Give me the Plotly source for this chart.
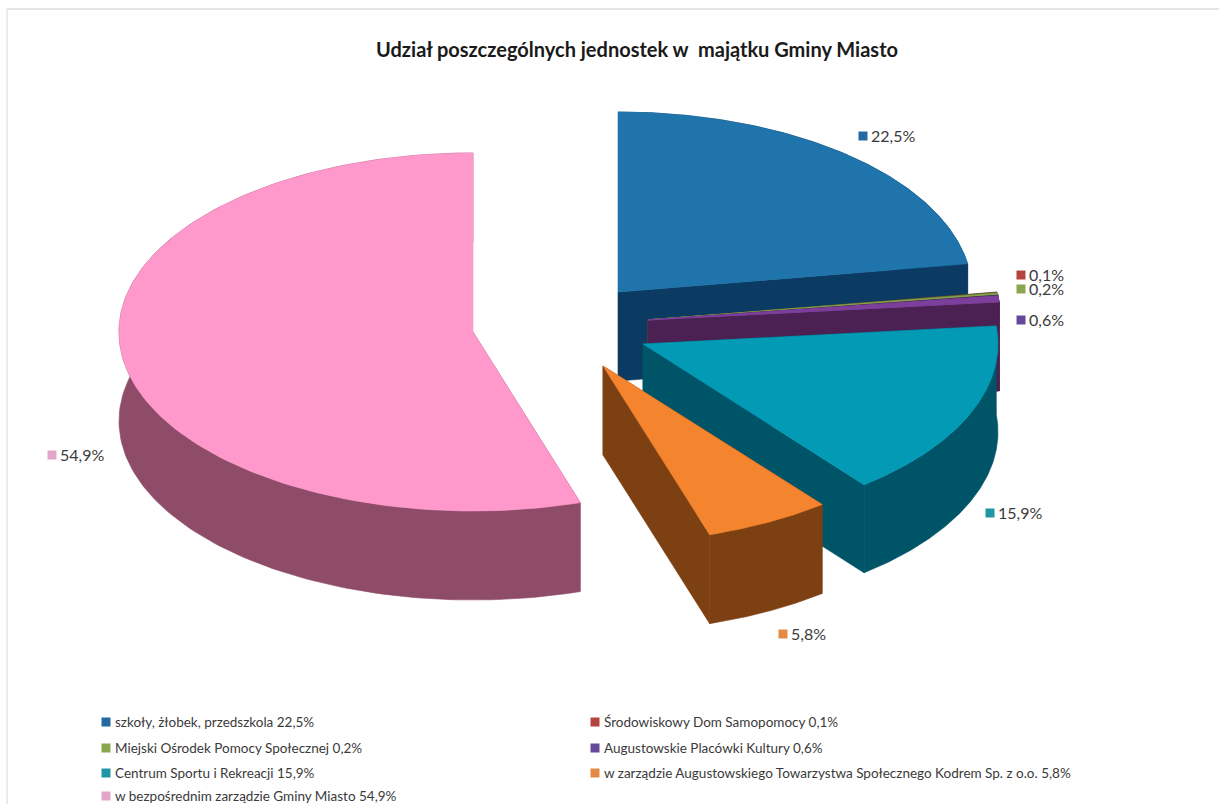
import numpy as np
import plotly.graph_objects as go

# ---- data ----
categories = ["szkoły, żłobek, przedszkola", "Środowiskowy Dom Samopomocy",
              "Miejski Ośrodek Pomocy Społecznej", "Augustowskie Placówki Kultury",
              "Centrum Sportu i Rekreacji",
              "w zarządzie Augustowskiego Towarzystwa Społecznego Kodrem Sp. z o.o.",
              "w bezpośrednim zarządzie Gminy Miasto"]
shares = [22.5, 0.1, 0.2, 0.6, 15.9, 5.8, 54.9]
title = "Udział poszczególnych jednostek w  majątku Gminy Miasto"

# ---- styles / layout ----
top_colors = ["#1f74ab", "#b5453f", "#80a04c", "#7c3f9c", "#039ab6", "#f4842e", "#ff99cc"]
side_colors = ["#0b3a62", "#6e2a28", "#55702f", "#4a2152", "#005468", "#7d4012", "#8e4c69"]
key_colors = ["#2469a3", "#b7433f", "#8aa64e", "#65489a", "#1e96a6", "#e58a45", "#e3a6c9"]
edge_widths = [0.6, 0.3, 1.6, 1.0, 0.6, 0.6, 0.6]
apex_x = [618, 648, 648, 648, 643, 603, 473]
apex_y = [292, 320, 320, 320, 344, 366, 332]
radius_x = [354, 353, 353, 353, 355, 352, 354]
radius_y = [180, 180, 180, 180, 180, 177, 179]
depth = [89, 89, 89, 89, 88, 89, 89]
label_x = [863, 1021, 1021, 1021, 990, 783, 52]
label_y = [136, 275, 289, 320, 513, 634, 455]
key_x = [106, 595, 106, 595, 106, 595, 106]
key_y = [722, 722, 748, 748, 773, 773, 796]
label_gap = 8
key_gap = 9
FONT = "Lato, Carlito, Calibri, sans-serif"
TEXT = "#3a3a3a"

edges = np.concatenate([[0], np.cumsum(shares)]) / sum(shares) * 2 * np.pi

fig = go.Figure()


def poly(xs, ys, color, width):
    fig.add_trace(go.Scatter(x=xs, y=ys, mode="lines", fill="toself", fillcolor=color,
                             line=dict(color=color, width=width), hoverinfo="skip",
                             showlegend=False))


def draw_slice(i):
    ax, ay, d = apex_x[i], apex_y[i], depth[i]
    w = edge_widths[i]
    t = np.linspace(edges[i], edges[i + 1], 160)
    x_top = ax + radius_x[i] * np.sin(t)
    y_top = ay - radius_y[i] * np.cos(t)
    y_low = y_top + d
    # curved outer wall
    poly(np.r_[x_top, x_top[::-1]], np.r_[y_top, y_low[::-1]], side_colors[i], w)
    # flat cut walls at both radial edges (a wall seen edge-on is skipped)
    for e in (0, -1):
        if abs(x_top[e] - ax) > 1:
            poly([ax, x_top[e], x_top[e], ax, ax], [ay, y_top[e], y_low[e], ay + d, ay], side_colors[i], w)
    # top face
    poly(np.r_[ax, x_top, ax], np.r_[ay, y_top, ay], top_colors[i], w)


for i in [6, 0, 1, 2, 3, 4, 5]:
    draw_slice(i)

fmt = [f"{v:.1f}%".replace(".", ",") for v in shares]
key_text = [f"{c} {t}" for c, t in zip(categories, fmt)]


def labelled_squares(xs, ys, texts, gap, size):
    fig.add_trace(go.Scatter(x=xs, y=ys, mode="markers",
                             marker=dict(symbol="square", size=9, color=key_colors),
                             hoverinfo="skip", showlegend=False))
    fig.add_trace(go.Scatter(x=[v + gap for v in xs], y=[v + 1.5 for v in ys], mode="text", text=texts,
                             textposition="middle right",
                             textfont=dict(family=FONT, size=size, color=TEXT),
                             hoverinfo="skip", showlegend=False))


labelled_squares(label_x, label_y, fmt, label_gap, 16)
labelled_squares(key_x, key_y, key_text, key_gap, 13.5)

fig.update_layout(
    width=1219, height=804, margin=dict(l=0, r=0, t=0, b=0),
    paper_bgcolor="white", plot_bgcolor="white", showlegend=False,
    title=dict(text=f"<b>{title}</b>", x=637 / 1219, xanchor="center", y=1 - 50 / 804, yanchor="middle",
               font=dict(family=FONT, size=20, color="#1a1a1a")),
    xaxis=dict(range=[0, 1219], visible=False, fixedrange=True),
    yaxis=dict(range=[804, 0], visible=False, fixedrange=True),
    shapes=[
        dict(type="line", xref="paper", yref="paper", x0=7 / 1219, x1=1, y0=1 - 9 / 804, y1=1 - 9 / 804,
             line=dict(color="#dddddd", width=1.5)),
        dict(type="line", xref="paper", yref="paper", x0=7 / 1219, x1=7 / 1219, y0=0, y1=1 - 9 / 804,
             line=dict(color="#e4e4e4", width=1.5)),
    ],
)
fig.write_html("out.html", config={"displayModeBar": False},
               post_script="document.body.style.margin='0';document.body.style.overflow='hidden';")
